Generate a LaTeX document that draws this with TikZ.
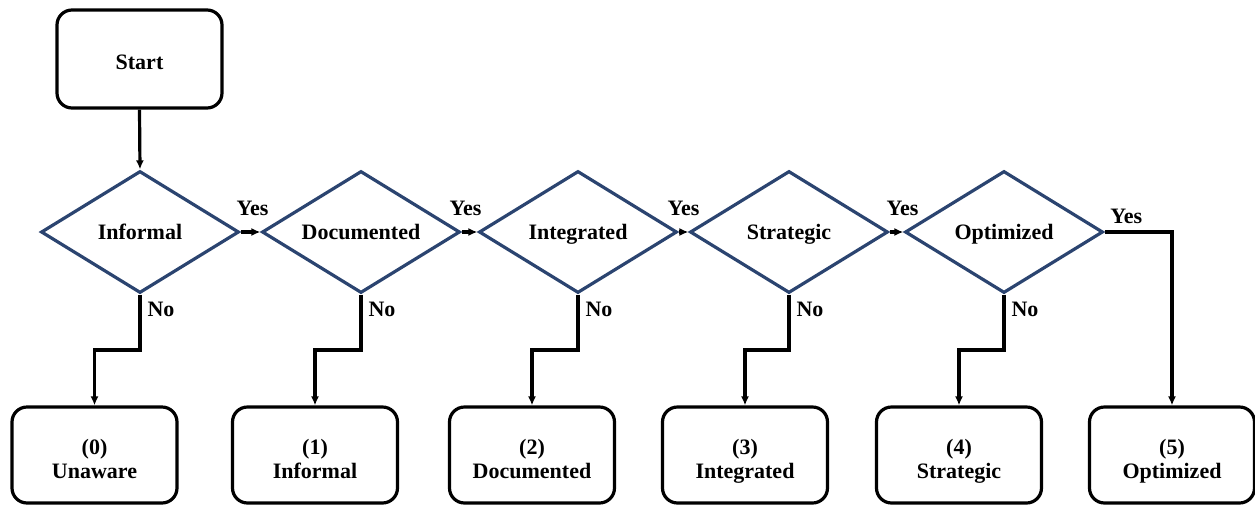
\documentclass[tikz,border=0pt]{standalone}
\usepackage{fontspec}
\setmainfont{Liberation Serif}
\usetikzlibrary{shapes.geometric,arrows.meta}

\definecolor{decblue}{RGB}{43,68,112}

\tikzset{
  every node/.style={font=\bfseries\fontsize{11}{12}\selectfont},
  roundbox/.style={draw=black, line width=1.6pt, rounded corners=7.5pt,
    minimum width=82.5pt, minimum height=48pt, align=center, inner sep=0pt},
  levelbox/.style={roundbox, text height=23pt, text depth=0pt},
  decision/.style={diamond, draw=decblue, line width=1.6pt, aspect=1.6,
    minimum width=99pt, minimum height=61pt, inner sep=0pt,
    text height=9.5pt, text depth=2.3pt},
  flow/.style={line width=1.6pt, -{Latex[length=4.5pt,width=4pt]}},
  yeslabel/.style={anchor=south, inner sep=0pt, yshift=7.5pt},
  nolabel/.style={anchor=north west, inner sep=0pt, xshift=3pt, yshift=-3pt}
}

\begin{document}
\begin{tikzpicture}[x=0.5pt, y=-0.5pt]
  \useasboundingbox (0,0) rectangle (1255,505);

  % start
  \node[roundbox, minimum height=49pt, text height=10.5pt, text depth=0pt] (start) at (139.5,59) {Start};

  % decisions
  \node[decision] (d1) at (140,232) {Informal};
  \node[decision] (d2) at (361,232) {Documented};
  \node[decision] (d3) at (578,232) {Integrated};
  \node[decision] (d4) at (789,232) {Strategic};
  \node[decision] (d5) at (1004,232) {Optimized};

  % maturity levels
  \node[levelbox] (b0) at (94.5,455) {(0)\\Unaware};
  \node[levelbox] (b1) at (315,455) {(1)\\Informal};
  \node[levelbox] (b2) at (532,455) {(2)\\Documented};
  \node[levelbox] (b3) at (745,455) {(3)\\Integrated};
  \node[levelbox] (b4) at (959,455) {(4)\\Strategic};
  \node[levelbox] (b5) at (1172,455) {(5)\\Optimized};

  % main flow
  \draw[flow] (start.south) -- (d1.north);
  \draw[flow] (d1.east) -- node[yeslabel, xshift=1pt] {Yes} (d2.west);
  \draw[flow] (d2.east) -- node[yeslabel, xshift=-2pt] {Yes} (d3.west);
  \draw[flow] (d3.east) -- node[yeslabel] {Yes} (d4.west);
  \draw[flow] (d4.east) -- node[yeslabel, xshift=3pt] {Yes} (d5.west);
  \draw[flow] (d5.east) -| node[pos=0.16, anchor=south, inner sep=0pt, yshift=3.5pt] {Yes} (b5.north);

  % "No" branches
  \foreach \d/\b in {d1/b0, d2/b1, d3/b2, d4/b3, d5/b4} {
    \draw[flow] (\d.south) node[nolabel] {No} -- (\d.south |- 0,350) -| (\b.north);
  }
\end{tikzpicture}
\end{document}
